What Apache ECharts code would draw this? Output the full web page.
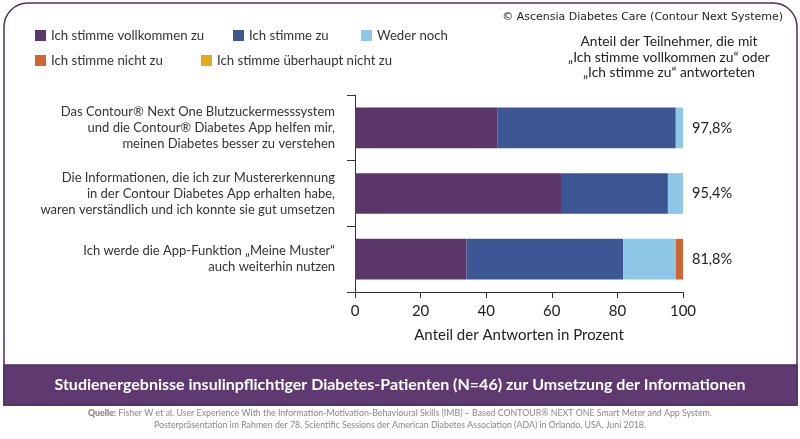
<!DOCTYPE html>
<html>
<head>
<meta charset="utf-8">
<script src="https://cdn.jsdelivr.net/npm/echarts@6/dist/echarts.min.js"></script>
<style>
html,body{margin:0;padding:0;background:#fff;}
#c{width:800px;height:439px;}
</style>
</head>
<body>
<div id="c"></div>
<script>
var categories = [
  'Das Contour® Next One Blutzuckermesssystem\nund die Contour® Diabetes App helfen mir,\nmeinen Diabetes besser zu verstehen',
  'Die Informationen, die ich zur Mustererkennung\nin der Contour Diabetes App erhalten habe,\nwaren verständlich und ich konnte sie gut umsetzen',
  'Ich werde die App-Funktion „Meine Muster“\nauch weiterhin nutzen'
];
var seriesNames = ['Ich stimme vollkommen zu', 'Ich stimme zu', 'Weder noch', 'Ich stimme nicht zu', 'Ich stimme überhaupt nicht zu'];
var vollkommen = [43.5, 62.8, 34.0];
var stimmeZu = [54.3, 32.6, 47.8];
var wederNoch = [2.2, 4.6, 16.0];
var nichtZu = [0, 0, 2.2];
var ueberhauptNicht = [0, 0, 0];
var agreeShare = [97.8, 95.4, 81.8];
var xTicks = [0, 20, 40, 60, 80, 100];

var colors = ['#5b3769', '#3d5795', '#8ec7e8', '#cf6530', '#e5aa1c'];
var valueSets = [vollkommen, stimmeZu, wederNoch, nichtZu, ueberhauptNicht];
var FONT = 'Lato, "Noto Sans", sans-serif';
var TXT = '#333';

var series = seriesNames.map(function (n, i) {
  var s = {
    name: n, type: 'bar', stack: 'all', data: valueSets[i],
    barCategoryGap: '38%',
    itemStyle: { color: colors[i] },
    emphasis: { disabled: true }
  };
  if (i === seriesNames.length - 1) {
    s.label = {
      show: true, position: 'right', distance: 9,
      fontFamily: FONT, fontSize: 14.5, color: '#222',
      formatter: function (p) { return agreeShare[p.dataIndex].toFixed(1).replace('.', ',') + '%'; }
    };
  }
  return s;
});

var legendPos = [[35, 29], [233, 29], [361, 29], [35, 54], [201, 54]];
var legends = seriesNames.map(function (n, i) {
  return {
    data: [n], left: legendPos[i][0], top: legendPos[i][1], padding: 0,
    icon: 'rect', itemWidth: 11, itemHeight: 11, itemGap: 4,
    selectedMode: false,
    textStyle: { fontFamily: FONT, fontSize: 13.2, color: TXT }
  };
});

var chart = echarts.init(document.getElementById('c'));
chart.setOption({
  animation: false,
  backgroundColor: '#fff',
  legend: legends,
  grid: { left: 355, right: 117, top: 95, bottom: 147 },
  xAxis: {
    type: 'value', min: 0, max: 100, interval: 20,
    axisLine: { show: true, lineStyle: { color: '#333', width: 1 } },
    axisTick: { show: true, length: 6, lineStyle: { color: '#333' } },
    splitLine: { show: false },
    axisLabel: { fontFamily: FONT, fontSize: 15, color: '#222', margin: 12,
      formatter: function (v) { return xTicks.indexOf(v) >= 0 ? String(v) : ''; } },
    name: 'Anteil der Antworten in Prozent', nameLocation: 'middle', nameGap: 36,
    nameTextStyle: { fontFamily: FONT, fontSize: 15, color: '#222' }
  },
  yAxis: {
    type: 'category', data: categories, inverse: true,
    axisLine: { show: true, lineStyle: { color: '#333', width: 1 } },
    axisTick: { show: true, length: 8, lineStyle: { color: '#333' } },
    axisLabel: { fontFamily: FONT, fontSize: 13, color: TXT, margin: 20, lineHeight: 16, align: 'right' }
  },
  series: series,
  graphic: [
    { type: 'rect', silent: true, z: -1,
      shape: { x: 4, y: 3, width: 793, height: 402, r: [24, 24, 0, 0] },
      style: { fill: 'none', stroke: '#4d2f5d', lineWidth: 1.5 } },
    { type: 'rect', silent: true, z: -1,
      shape: { x: 4, y: 365, width: 793, height: 40 },
      style: { fill: '#5e3a70', stroke: '#4d2f5d', lineWidth: 1.5 } },
    { type: 'text', silent: true, x: 783, y: 17,
      style: { text: '© Ascensia Diabetes Care (Contour Next Systeme)', font: '11px "DejaVu Sans"', fill: '#222', align: 'right', verticalAlign: 'middle' } },
    { type: 'text', silent: true, x: 669, y: 34,
      style: { text: 'Anteil der Teilnehmer, die mit\n„Ich stimme vollkommen zu“ oder\n„Ich stimme zu“ antworteten', font: '13.8px ' + FONT, fill: '#222', lineHeight: 15.5, align: 'center', verticalAlign: 'top' } },
    { type: 'text', silent: true, x: 400, y: 385,
      style: { text: 'Studienergebnisse insulinpflichtiger Diabetes-Patienten (N=46) zur Umsetzung der Informationen', font: 'bold 16px ' + FONT, fill: '#fff', align: 'center', verticalAlign: 'middle' } },
    { type: 'text', silent: true, x: 400, y: 413,
      style: { text: '{b|Quelle:} Fisher W et al. User Experience With the Information-Motivation-Behavioural Skills (IMB) – Based CONTOUR® NEXT ONE Smart Meter and App System.', font: '8.8px ' + FONT, fill: '#888', align: 'center', verticalAlign: 'middle',
        rich: { b: { fontWeight: 'bold', fontFamily: 'Lato', fontSize: 8.8, fill: '#777' } } } },
    { type: 'text', silent: true, x: 400, y: 425,
      style: { text: 'Posterpräsentation im Rahmen der 78. Scientific Sessions der American Diabetes Association (ADA) in Orlando, USA, Juni 2018.', font: '8.8px ' + FONT, fill: '#888', align: 'center', verticalAlign: 'middle' } }
  ]
});
</script>
</body>
</html>
